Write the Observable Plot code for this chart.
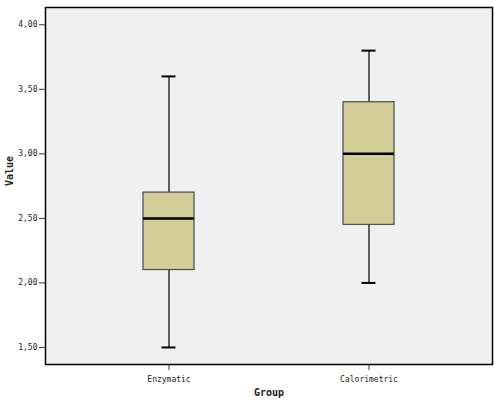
<!DOCTYPE html>
<html>
<head>
<meta charset="utf-8">
<script src="https://cdn.jsdelivr.net/npm/d3@7"></script>
<script src="https://cdn.jsdelivr.net/npm/@observablehq/plot@0.6"></script>
<style>
  html, body { margin: 0; padding: 0; background: #ffffff; }
  #chart svg { display: block; }
</style>
</head>
<body>
<div id="chart"></div>
<script>
const groups = ["Enzymatic", "Calorimetric"];
const mins = [1.50, 2.00];
const q1s = [2.10, 2.45];
const medians = [2.50, 3.00];
const q3s = [2.70, 3.40];
const maxs = [3.60, 3.80];
const yTicks = [1.5, 2.0, 2.5, 3.0, 3.5, 4.0];
const xTitle = "Group";
const yTitle = "Value";

const rows = groups.map((g, i) => ({
  group: g, min: mins[i], q1: q1s[i], median: medians[i], q3: q3s[i], max: maxs[i]
}));

const fmt = d => d.toFixed(2).replace(".", ",");

const chart = Plot.plot({
  width: 495,
  height: 400,
  marginLeft: 45,
  marginTop: 7,
  marginRight: 3,
  marginBottom: 36,
  style: { fontFamily: "'DejaVu Sans Mono', monospace", fontSize: "8px", background: "#ffffff", color: "#222" },
  x: { type: "band", domain: groups, paddingInner: 0.746, paddingOuter: 0.4876, label: null },
  y: { domain: [1.368, 4.134], label: null },
  marks: [
    Plot.frame({ fill: "#f0f0f0", stroke: null }),
    Plot.ruleX(rows, { x: "group", y1: "min", y2: "q1", stroke: "#3a3a3a", strokeWidth: 1.6 }),
    Plot.ruleX(rows, { x: "group", y1: "q3", y2: "max", stroke: "#3a3a3a", strokeWidth: 1.6 }),
    Plot.tickY(rows, { x: "group", y: "min", stroke: "#000", strokeWidth: 2, insetLeft: 18.5, insetRight: 18.5 }),
    Plot.tickY(rows, { x: "group", y: "max", stroke: "#000", strokeWidth: 2, insetLeft: 18.5, insetRight: 18.5 }),
    Plot.barY(rows, { x: "group", y1: "q1", y2: "q3", fill: "#d3ce97", stroke: "#4a4a4a", strokeWidth: 1.2 }),
    Plot.tickY(rows, { x: "group", y: "median", stroke: "#000", strokeWidth: 2.5 }),
    Plot.axisY({ ticks: yTicks, tickFormat: fmt, tickSize: 6, tickPadding: 2, label: null, stroke: "#333" }),
    Plot.axisX({ tickSize: 6, tickPadding: 6, label: null, stroke: "#333" }),
    Plot.text([yTitle], { frameAnchor: "left", dx: -36, rotate: -90, text: d => d, fontWeight: "bold", fontSize: 10, fill: "#222" }),
    Plot.text([xTitle], { frameAnchor: "bottom", dy: 31, text: d => d, fontWeight: "bold", fontSize: 10, fill: "#222" }),
    Plot.frame({ stroke: "#000", strokeWidth: 1.5 })
  ]
});
document.getElementById("chart").appendChild(chart);
</script>
</body>
</html>
